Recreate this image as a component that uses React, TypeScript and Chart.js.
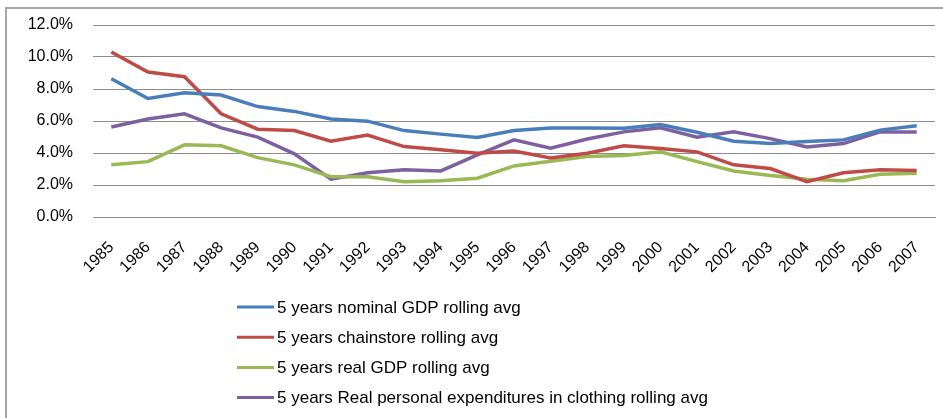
import React, { useEffect, useRef } from "react";
import { Chart, registerables } from "chart.js";

Chart.register(...registerables);

const years = [
  "1985", "1986", "1987", "1988", "1989", "1990", "1991", "1992", "1993", "1994", "1995", "1996",
  "1997", "1998", "1999", "2000", "2001", "2002", "2003", "2004", "2005", "2006", "2007",
];
const nominalGDP = [8.64, 7.41, 7.76, 7.62, 6.9, 6.6, 6.12, 5.99, 5.4, 5.18, 4.97, 5.4, 5.57, 5.57, 5.55, 5.78, 5.3, 4.74, 4.59, 4.72, 4.82, 5.43, 5.7];
const chainstore = [10.31, 9.06, 8.77, 6.45, 5.49, 5.4, 4.74, 5.12, 4.4, 4.21, 3.99, 4.13, 3.69, 3.99, 4.45, 4.28, 4.07, 3.26, 3.03, 2.21, 2.76, 2.96, 2.9];
const realGDP = [3.26, 3.46, 4.51, 4.45, 3.71, 3.26, 2.52, 2.52, 2.21, 2.27, 2.42, 3.19, 3.49, 3.78, 3.84, 4.07, 3.46, 2.88, 2.59, 2.36, 2.27, 2.67, 2.74];
const clothing = [5.62, 6.12, 6.45, 5.57, 4.99, 3.95, 2.36, 2.76, 2.96, 2.88, 3.88, 4.82, 4.3, 4.87, 5.32, 5.57, 4.99, 5.32, 4.9, 4.38, 4.59, 5.32, 5.32];
const seriesLabels = [
  "5 years nominal GDP rolling avg",
  "5 years chainstore rolling avg",
  "5 years real GDP rolling avg",
  "5 years Real personal expenditures in clothing rolling avg",
];
const seriesColors = ["#4A7EBB", "#BE4B48", "#98B954", "#7D60A0"];
const yMin = 0;
const yMax = 12;
const yStep = 2;

const FONT = '"Liberation Sans", Arial, sans-serif';

const legendPlugin = {
  id: "verticalLegend",
  afterDraw(chart: any) {
    const ctx = chart.ctx;
    ctx.save();
    chart.data.datasets.forEach((ds: any, i: number) => {
      const y = 307 + i * 30.2;
      ctx.strokeStyle = ds.borderColor;
      ctx.lineWidth = 3;
      ctx.beginPath();
      ctx.moveTo(237, y);
      ctx.lineTo(274, y);
      ctx.stroke();
      ctx.fillStyle = "#000";
      ctx.font = "17px " + FONT;
      ctx.textBaseline = "middle";
      ctx.textAlign = "left";
      ctx.fillText(ds.label, 277, y + 1);
    });
    ctx.restore();
  },
};

export default function App() {
  const ref = useRef<HTMLCanvasElement | null>(null);

  useEffect(() => {
    document.body.style.margin = "0";
    if (!ref.current) return;
    const data = [nominalGDP, chainstore, realGDP, clothing];
    const chart = new Chart(ref.current, {
      type: "line",
      data: {
        labels: years,
        datasets: data.map((d, i) => ({
          label: seriesLabels[i],
          data: d,
          borderColor: seriesColors[i],
          backgroundColor: seriesColors[i],
          borderWidth: 3.5,
          pointRadius: 0,
          tension: 0,
          fill: false,
        })),
      },
      options: {
        responsive: false,
        animation: false,
        layout: { padding: { top: 25, right: 8, left: 0, bottom: 141 } },
        plugins: {
          legend: { display: false },
          tooltip: { enabled: false },
        },
        scales: {
          x: {
            offset: true,
            grid: { display: false, drawTicks: false },
            border: { display: true, color: "#8C8C8C", width: 1 },
            ticks: {
              color: "#000",
              font: { family: FONT, size: 16 },
              minRotation: 45,
              maxRotation: 45,
              padding: 21,
              autoSkip: false,
            },
            afterFit(scale: any) {
              scale.height = 60;
              scale.paddingLeft = 0;
              scale.paddingRight = 0;
            },
          },
          y: {
            min: yMin,
            max: yMax,
            grid: { color: "#8C8C8C", lineWidth: 1, drawTicks: false },
            border: { display: false },
            ticks: {
              stepSize: yStep,
              color: "#000",
              font: { family: FONT, size: 16 },
              padding: 20,
              callback: (v: any) => Number(v).toFixed(1) + "%",
            },
            afterFit(scale: any) {
              scale.width = 93;
              scale.paddingTop = 0;
              scale.paddingBottom = 0;
            },
          },
        },
      },
      plugins: [legendPlugin],
    });
    return () => chart.destroy();
  }, []);

  return (
    <div style={{ position: "fixed", left: 0, top: 0, width: 943, height: 418, overflow: "hidden", background: "#fff" }}>
      <div
        style={{
          position: "absolute",
          left: 5,
          top: 7,
          width: 1000,
          height: 1000,
          border: "2px solid #A6A6A6",
          boxSizing: "border-box",
        }}
      />
      <canvas ref={ref} width={943} height={418} style={{ position: "absolute", left: 0, top: 0, width: 943, height: 418 }} />
    </div>
  );
}
